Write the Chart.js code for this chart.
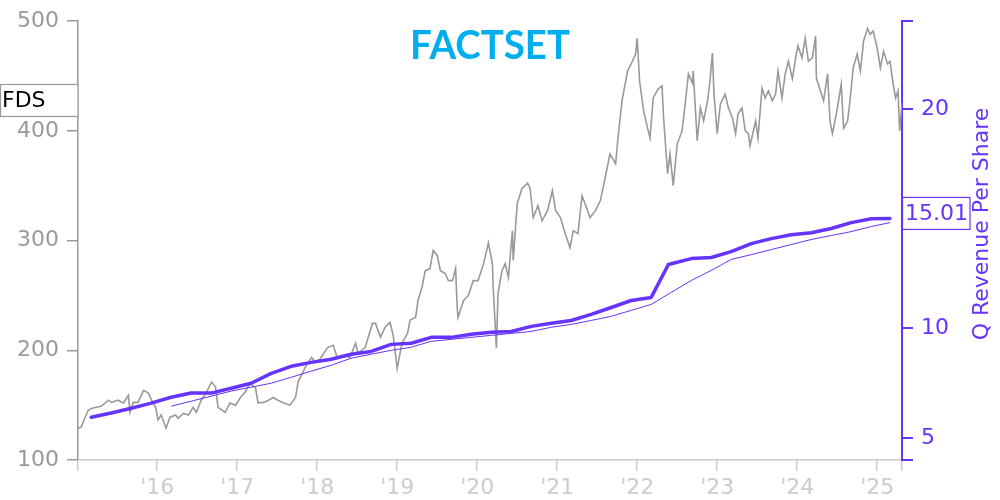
<!DOCTYPE html>
<html><head><meta charset="utf-8">
<script src="https://cdn.jsdelivr.net/npm/chart.js@4"></script>
<style>html,body{margin:0;padding:0;background:#fff}#wrap{width:1000px;height:500px}</style>
</head><body><div id="wrap"><canvas id="c" width="1000" height="500"></canvas></div>
<script>
const ticker = 'FDS';
const logoText = 'FACTSET';
const rightAxisTitle = 'Q Revenue Per Share';
const lastRevenueLabel = '15.01';
const xMin = 2015.01, xMax = 2025.31;
const yearTicks = [2016, 2017, 2018, 2019, 2020, 2021, 2022, 2023, 2024, 2025];
const yearLabels = ["'16", "'17", "'18", "'19", "'20", "'21", "'22", "'23", "'24", "'25"];
const priceTicks = [100, 200, 300, 400, 500];
const revTicks = [4, 5, 10, 15, 20, 24];
const revTickLabels = [5, 10, 20];

// FDS share price [decimal year, price]
const fdsPrice = [
[2015.01,129],[2015.05,130],[2015.10,139],[2015.14,145.5],[2015.18,147],[2015.24,148],[2015.30,149],[2015.39,154.5],[2015.43,152.5],[2015.51,154.5],
[2015.58,152],[2015.64,159],[2015.66,143.5],[2015.70,152.5],[2015.76,152.5],[2015.83,163.5],[2015.89,161],[2015.93,154.5],[2015.98,148],[2016.01,136.5],
[2016.05,141],[2016.11,129],[2016.16,139],[2016.23,141],[2016.26,138],[2016.33,142.5],[2016.39,141],[2016.45,148],[2016.49,143.5],[2016.55,154.5],
[2016.61,161],[2016.68,171],[2016.73,166.5],[2016.76,148],[2016.85,143.5],[2016.91,152],[2016.98,150],[2017.04,157],[2017.10,162],[2017.16,170],
[2017.23,165.5],[2017.26,152],[2017.33,152.5],[2017.39,154.5],[2017.45,157],[2017.51,154.5],[2017.58,152],[2017.66,150],[2017.73,157],[2017.76,171],
[2017.85,184.5],[2017.93,193.5],[2017.98,189],[2018.04,192.5],[2018.13,202.5],[2018.20,204.5],[2018.25,193.5],[2018.33,195.5],[2018.41,193.5],[2018.48,206.5],
[2018.51,197.5],[2018.60,202.5],[2018.69,224.5],[2018.73,224.5],[2018.79,212],[2018.85,221],[2018.91,225.5],[2018.95,213.5],[2019.00,183.5],[2019.06,206.5],
[2019.13,215.5],[2019.16,227.5],[2019.23,230],[2019.26,245.5],[2019.31,257.5],[2019.35,272.5],[2019.41,274.5],[2019.45,291],[2019.50,286.5],[2019.54,272.5],
[2019.60,270],[2019.64,263.5],[2019.69,263.5],[2019.73,274.5],[2019.75,239],[2019.76,230],[2019.83,245.5],[2019.89,250],[2019.95,263.5],[2020.01,263.5],
[2020.08,279],[2020.14,298],[2020.19,279],[2020.20,257.5],[2020.24,202],[2020.26,252],[2020.31,272.5],[2020.35,279],[2020.39,266.5],[2020.44,309],
[2020.45,282],[2020.50,333.5],[2020.56,347.5],[2020.63,352.5],[2020.66,348],[2020.70,321],[2020.76,332],[2020.81,318],[2020.88,327.5],[2020.94,345.5],
[2020.98,327.5],[2021.04,321],[2021.10,306.5],[2021.16,293.5],[2021.20,309],[2021.26,306.5],[2021.31,341],[2021.38,327.5],[2021.41,321],[2021.48,327.5],
[2021.54,336.5],[2021.60,357.5],[2021.66,379],[2021.73,370],[2021.76,393.5],[2021.81,427.5],[2021.88,454.5],[2021.94,463.5],[2021.98,470],[2022.00,484.5],
[2022.03,445.5],[2022.08,418],[2022.13,402.5],[2022.16,393.5],[2022.20,430],[2022.26,438],[2022.31,441],[2022.33,412],[2022.38,361],[2022.41,379],
[2022.45,350],[2022.50,388],[2022.56,400],[2022.60,424.5],[2022.64,452],[2022.69,443.5],[2022.70,454.5],[2022.75,391],[2022.79,421],[2022.83,409],
[2022.88,427.5],[2022.91,445.5],[2022.94,471],[2022.96,433.5],[2023.00,397.5],[2023.04,424.5],[2023.10,433.5],[2023.14,421],[2023.19,412],[2023.23,397.5],
[2023.26,415.5],[2023.31,421],[2023.35,400],[2023.39,397.5],[2023.41,386.5],[2023.48,409],[2023.51,393.5],[2023.56,439],[2023.60,430],[2023.64,436.5],
[2023.69,427.5],[2023.73,433.5],[2023.76,454.5],[2023.81,430],[2023.85,452],[2023.89,463.5],[2023.94,447.5],[2023.98,466.5],[2024.01,477.5],[2024.06,466.5],
[2024.10,484.5],[2024.14,463.5],[2024.19,466.5],[2024.23,486.5],[2024.24,448],[2024.29,436.5],[2024.33,427.5],[2024.38,452],[2024.41,409],[2024.44,397.5],
[2024.48,412],[2024.51,424.5],[2024.55,442.5],[2024.58,402.5],[2024.63,409],[2024.66,427.5],[2024.70,457.5],[2024.75,470],[2024.79,454.5],[2024.83,482],
[2024.88,493.5],[2024.91,488],[2024.95,491],[2025.00,475.5],[2025.04,457.5],[2025.08,472.5],[2025.13,461],[2025.16,463.5],[2025.20,442.5],[2025.23,430],
[2025.26,436.5],[2025.28,400],[2025.31,425]
];

// Quarterly revenue per share [decimal year, value]
const qRevenuePerShare = [
[2015.175,5.95],[2015.425,6.14],[2015.675,6.36],[2015.925,6.59],[2016.175,6.86],[2016.425,7.05],[2016.675,7.05],[2016.925,7.27],
[2017.175,7.5],[2017.425,7.95],[2017.675,8.27],[2017.925,8.45],[2018.175,8.59],[2018.425,8.82],[2018.675,8.95],[2018.925,9.27],
[2019.175,9.32],[2019.425,9.59],[2019.675,9.59],[2019.925,9.73],[2020.175,9.82],[2020.425,9.86],[2020.675,10.09],[2020.925,10.23],
[2021.175,10.36],[2021.425,10.64],[2021.675,10.95],[2021.925,11.27],[2022.175,11.41],[2022.39,12.91],[2022.675,13.18],[2022.925,13.23],
[2023.175,13.5],[2023.425,13.86],[2023.675,14.09],[2023.925,14.27],[2024.175,14.36],[2024.425,14.55],[2024.675,14.82],[2024.925,15.0],
[2025.16,15.01]
];

// Thin companion line [decimal year, value]
const qRevenueTrend = [
[2016.175,6.45],[2016.425,6.68],[2016.675,6.91],[2016.925,7.14],[2017.175,7.32],[2017.425,7.5],[2017.675,7.77],[2017.925,8.05],
[2018.175,8.32],[2018.425,8.64],[2018.675,8.82],[2018.925,9.0],[2019.175,9.14],[2019.425,9.41],[2019.675,9.5],[2019.925,9.59],
[2020.175,9.68],[2020.425,9.77],[2020.675,9.86],[2020.925,10.05],[2021.175,10.18],[2021.425,10.36],[2021.675,10.55],[2021.925,10.82],
[2022.175,11.09],[2022.425,11.64],[2022.675,12.18],[2022.925,12.64],[2023.175,13.14],[2023.425,13.36],[2023.675,13.59],[2023.925,13.82],
[2024.175,14.05],[2024.425,14.23],[2024.675,14.41],[2024.925,14.64],[2025.16,14.82]
];

const PURPLE = '#6633ff';
const GRAY = '#999999';
const FONT = 'DejaVu Sans';
const toXY = a => a.map(p => ({x: p[0], y: p[1]}));

const overlay = {
  id: 'overlay',
  afterDraw(chart) {
    const ctx = chart.ctx;
    const y = chart.scales.y, y2 = chart.scales.y2;
    ctx.save();
    const lastPrice = fdsPrice[fdsPrice.length - 1][1];
    const py = y.getPixelForValue(lastPrice) - 3;
    ctx.fillStyle = '#fff';
    ctx.fillRect(0.5, py - 16, 77.5, 32);
    ctx.strokeStyle = '#999';
    ctx.lineWidth = 1.2;
    ctx.strokeRect(0.5, py - 16, 77.5, 32);
    ctx.fillStyle = '#000';
    ctx.font = '22px ' + FONT;
    ctx.textAlign = 'left';
    ctx.textBaseline = 'middle';
    ctx.fillText(ticker, 2, py + 1);
    const lastRev = qRevenuePerShare[qRevenuePerShare.length - 1][1];
    const ry = y2.getPixelForValue(lastRev) - 5;
    ctx.fillStyle = '#fff';
    ctx.fillRect(903, ry - 16, 67, 32);
    ctx.strokeStyle = PURPLE;
    ctx.lineWidth = 1.2;
    ctx.strokeRect(902.5, ry - 16, 67.5, 32);
    ctx.fillStyle = PURPLE;
    ctx.fillText(lastRevenueLabel, 905, ry + 1);
    ctx.save();
    ctx.translate(982, 224);
    ctx.rotate(-Math.PI / 2);
    ctx.textAlign = 'center';
    ctx.fillText(rightAxisTitle, 0, 0);
    ctx.restore();
    ctx.font = 'bold 40px Lato';
    const w = ctx.measureText(logoText).width;
    ctx.save();
    ctx.translate(490, 44);
    ctx.scale(160 / w, 1);
    ctx.textAlign = 'center';
    ctx.fillStyle = '#00aeef';
    ctx.fillText(logoText, 0, 2);
    ctx.restore();
    ctx.restore();
  }
};

new Chart(document.getElementById('c'), {
  type: 'line',
  data: {
    datasets: [
      {data: toXY(qRevenuePerShare), yAxisID: 'y2', borderColor: PURPLE, borderWidth: 3.5, pointRadius: 0, tension: 0, order: 1, borderCapStyle: 'round', borderJoinStyle: 'round'},
      {data: toXY(qRevenueTrend), yAxisID: 'y2', borderColor: PURPLE, borderWidth: 1, pointRadius: 0, tension: 0, order: 2},
      {data: toXY(fdsPrice), yAxisID: 'y', borderColor: GRAY, borderWidth: 1.6, pointRadius: 0, tension: 0, order: 3}
    ]
  },
  options: {
    responsive: false,
    animation: false,
    devicePixelRatio: 1,
    layout: {padding: {top: 20, left: 0, right: 0, bottom: 0}},
    plugins: {legend: {display: false}, tooltip: {enabled: false}},
    scales: {
      x: {
        type: 'linear', min: xMin, max: xMax,
        afterBuildTicks: s => { s.ticks = [xMin, ...yearTicks, xMax].map(v => ({value: v})); },
        afterFit: s => { s.height = 40; },
        ticks: {
          autoSkip: false, maxRotation: 0, padding: 4, color: '#cccccc', font: {family: FONT, size: 22},
          callback: v => { const i = yearTicks.indexOf(v); return i >= 0 ? yearLabels[i] : ''; }
        },
        grid: {drawOnChartArea: false, tickLength: 11, color: '#cccccc', lineWidth: 1.5},
        border: {color: '#cccccc', width: 1.5}
      },
      y: {
        position: 'left', min: 100, max: 500,
        afterBuildTicks: s => { s.ticks = priceTicks.map(v => ({value: v})); },
        afterFit: s => { s.width = 78; },
        ticks: {padding: 8, color: GRAY, font: {family: FONT, size: 22}},
        grid: {drawOnChartArea: false, tickLength: 11, color: GRAY, lineWidth: 1.5},
        border: {color: GRAY, width: 1.5}
      },
      y2: {
        position: 'right', min: 4, max: 24,
        afterBuildTicks: s => { s.ticks = revTicks.map(v => ({value: v})); },
        afterFit: s => { s.width = 98; },
        ticks: {padding: 8, color: PURPLE, font: {family: FONT, size: 22},
          callback: v => revTickLabels.includes(v) ? String(v) : ''},
        grid: {drawOnChartArea: false, tickLength: 11, color: PURPLE, lineWidth: 2},
        border: {color: PURPLE, width: 2}
      }
    }
  },
  plugins: [overlay]
});
</script>
</body></html>
